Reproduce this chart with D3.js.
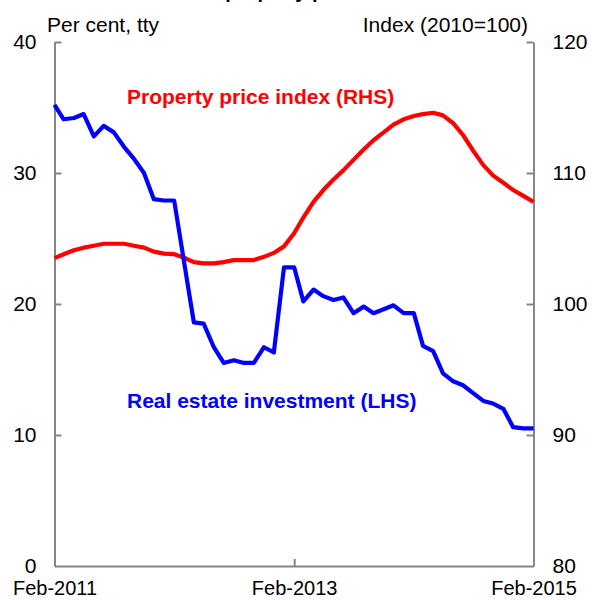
<!DOCTYPE html>
<html>
<head>
<meta charset="utf-8">
<script src="https://cdn.jsdelivr.net/npm/d3@7"></script>
<style>
  body { margin: 0; background: #fff; }
  svg { display: block; font-family: "Liberation Sans", Arial, sans-serif; }
</style>
</head>
<body>
<svg id="chart" width="592" height="600"></svg>
<script>
// =============================================================================
// Real estate investment (LHS, % tty) vs property price index (RHS, 2010=100)
// Monthly, Feb-2011 .. Feb-2015
// =============================================================================

const startMonth = new Date(2011, 1, 1);
const endMonth = new Date(2015, 1, 1);

// Real estate investment, per cent through the year (LHS)
const investment = [
  35.2, 34.1, 34.2, 34.5, 32.8, 33.6, 33.1, 32.0, 31.1, 30.0, 28.0, 27.9,
  27.9, 23.4, 18.6, 18.5, 16.7, 15.5, 15.7, 15.5, 15.5, 16.7, 16.3, 22.8,
  22.8, 20.2, 21.1, 20.6, 20.3, 20.5, 19.3, 19.8, 19.3, 19.6, 19.9, 19.3,
  19.3, 16.8, 16.4, 14.7, 14.1, 13.8, 13.2, 12.6, 12.4, 12.0, 10.6, 10.5,
  10.5
];

// Property price index, 2010=100 (RHS)
const priceIndex = [
  103.5, 103.8, 104.1, 104.3, 104.45, 104.6, 104.6, 104.6, 104.45, 104.3, 104.0, 103.85,
  103.8, 103.55, 103.2, 103.1, 103.1, 103.2, 103.35, 103.35, 103.35, 103.6, 103.9, 104.4,
  105.4, 106.6, 107.8, 108.7, 109.5, 110.2, 111.0, 111.8, 112.5, 113.1, 113.7, 114.1,
  114.35, 114.5, 114.6, 114.4, 113.8, 112.9, 111.7, 110.6, 109.8, 109.25, 108.7, 108.25,
  107.8
];

const leftTicks = [0, 10, 20, 30, 40];
const rightTicks = [80, 90, 100, 110, 120];
const xTickDates = [new Date(2011, 1, 1), new Date(2013, 1, 1), new Date(2015, 1, 1)];

const months = investment.map((_, i) => d3.timeMonth.offset(startMonth, i));

const MARGIN = { top: 42, right: 58.5, bottom: 34, left: 54.5 };
const W = 592, H = 600;
const AXIS = '#868686';
const FS = 21;

const svg = d3.select('#chart');

const x = d3.scaleTime().domain([startMonth, endMonth]).range([MARGIN.left, W - MARGIN.right]);
const yL = d3.scaleLinear().domain([0, 40]).range([H - MARGIN.bottom, MARGIN.top]);
const yR = d3.scaleLinear().domain([80, 120]).range([H - MARGIN.bottom, MARGIN.top]);

// Title sits above the frame; only the descenders peek in, as in the source
svg.append('text')
  .attr('x', 222).attr('y', -2)
  .attr('text-anchor', 'middle')
  .attr('font-size', 20).attr('font-weight', 'bold')
  .text('Investment and property prices');

// Axes: line + inward ticks, labels outside
const axisLeft = d3.axisLeft(yL).tickValues(leftTicks).tickSize(-7).tickPadding(18).tickFormat(d3.format('d'));
const axisRight = d3.axisRight(yR).tickValues(rightTicks).tickSize(-7).tickPadding(19).tickFormat(d3.format('d'));
const axisBottom = d3.axisBottom(x).tickValues(xTickDates).tickSize(-7).tickPadding(18).tickFormat(d3.timeFormat('%b-%Y'));

function styleAxis(g) {
  g.select('.domain').attr('stroke', AXIS).attr('stroke-width', 2);
  g.selectAll('.tick line').attr('stroke', AXIS).attr('stroke-width', 2);
  g.selectAll('.tick text').attr('font-size', FS).attr('fill', '#000')
    .attr('font-family', '"Liberation Sans", Arial, sans-serif');
}

svg.append('g').attr('transform', `translate(${MARGIN.left},0)`)
  .call(axisLeft.tickSizeOuter(0)).call(styleAxis);
svg.append('g').attr('transform', `translate(${W - MARGIN.right},0)`)
  .call(axisRight.tickSizeOuter(0)).call(styleAxis);
svg.append('g').attr('transform', `translate(0,${H - MARGIN.bottom})`)
  .call(axisBottom.tickSizeOuter(0)).call(styleAxis)
  .call(g => g.selectAll('.tick text').attr('font-size', 20).attr('dy', '0.55em'));

// end ticks of the bottom axis and the zero ticks sit on the frame; drop them
svg.selectAll('.tick line').filter(function (d) {
  return d instanceof Date && (+d === +startMonth || +d === +endMonth);
}).remove();
svg.selectAll('.tick line').filter(d => d === 0 || d === 80).remove();

// Axis titles
svg.append('text')
  .attr('x', 47).attr('y', 32)
  .attr('font-size', FS)
  .text('Per cent, tty');
svg.append('text')
  .attr('x', 528).attr('y', 32)
  .attr('text-anchor', 'end')
  .attr('font-size', FS)
  .text('Index (2010=100)');

// Lines
const lineL = d3.line().x((_, i) => x(months[i])).y(d => yL(d));
const lineR = d3.line().x((_, i) => x(months[i])).y(d => yR(d));

svg.append('path')
  .datum(priceIndex)
  .attr('d', lineR)
  .attr('fill', 'none')
  .attr('stroke', '#FF0000')
  .attr('stroke-width', 4.2)
  .attr('stroke-linejoin', 'round');

svg.append('path')
  .datum(investment)
  .attr('d', lineL)
  .attr('fill', 'none')
  .attr('stroke', '#0000FF')
  .attr('stroke-width', 4.2)
  .attr('stroke-linejoin', 'round');

// Series labels
svg.append('text')
  .attr('x', 127).attr('y', 104)
  .attr('font-size', FS).attr('font-weight', 'bold')
  .attr('fill', '#FF0000')
  .text('Property price index (RHS)');
svg.append('text')
  .attr('x', 127).attr('y', 408)
  .attr('font-size', FS).attr('font-weight', 'bold')
  .attr('fill', '#0000FF')
  .text('Real estate investment (LHS)');
</script>
</body>
</html>
